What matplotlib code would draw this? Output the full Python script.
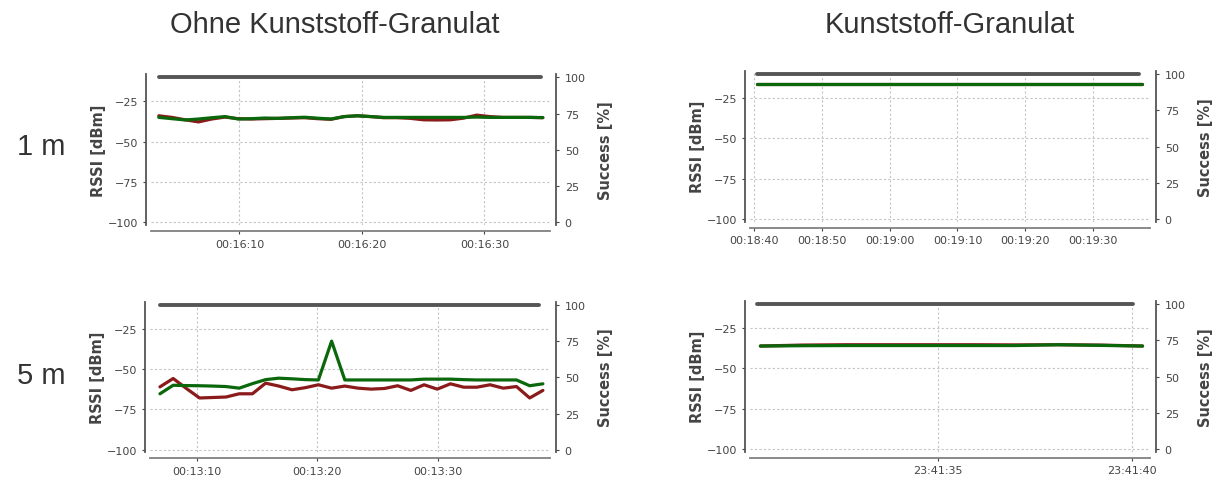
import numpy as np
import matplotlib
matplotlib.use("Agg")
import matplotlib.pyplot as plt
from matplotlib.ticker import FuncFormatter, MultipleLocator

W, H = 1220, 481

# —–––– Data (RSSI in dBm, time in seconds of day) —––––
# 1 m, ohne Granulat
t0_1m_ohne, dt_1m_ohne = 963.42, 1.081
red_1m_ohne = [-34.0, -35.0, -36.5, -37.8, -36.0, -34.8, -35.8, -36.0, -35.8, -35.6,
               -35.4, -35.2, -35.8, -36.2, -34.5, -34.0, -34.5, -35.2, -35.2, -35.6,
               -36.5, -36.6, -36.5, -35.5, -33.6, -34.5, -35.0, -35.0, -35.0, -35.2]
green_1m_ohne = [-35.0, -35.8, -36.6, -36.0, -35.2, -34.5, -36.0, -35.8, -35.4, -35.6,
                 -35.2, -34.9, -35.5, -36.0, -34.5, -34.0, -34.5, -35.0, -35.0, -35.0,
                 -35.0, -35.0, -35.0, -35.0, -34.8, -35.0, -35.0, -35.0, -35.0, -35.1]
succ_t_1m_ohne = [963.42, 994.6]
succ_1m_ohne = [100, 100]

# 1 m, mit Granulat
t0_1m_gran, dt_1m_gran = 1120.5, 1.134
red_1m_gran = [-16.6] * 51
green_1m_gran = [-16.6] * 51
succ_t_1m_gran = [1120.5, 1176.7]
succ_1m_gran = [100, 100]

# 5 m, ohne Granulat
t0_5m_ohne, dt_5m_ohne = 786.96, 1.094
red_5m_ohne = [-61.0, -55.8, -62.0, -67.9, -67.6, -67.3, -65.3, -65.3, -58.7, -60.5,
               -62.8, -61.5, -59.7, -61.8, -60.5, -61.8, -62.4, -62.0, -60.3, -63.2,
               -59.7, -62.4, -59.1, -61.2, -61.2, -59.7, -61.8, -60.8, -67.9, -63.2]
green_5m_ohne = [-65.3, -60.0, -60.2, -60.3, -60.5, -60.8, -61.8, -59.0, -56.5, -55.6,
                 -56.0, -56.5, -56.7, -32.6, -56.7, -56.7, -56.7, -56.7, -56.7, -56.7,
                 -56.2, -56.2, -56.2, -56.5, -56.7, -56.7, -56.7, -56.7, -60.3, -59.1]
succ_t_5m_ohne = [787.0, 818.4]
succ_5m_ohne = [100, 100]

# 5 m, mit Granulat
t0_5m_gran, dt_5m_gran = 85290.43, 1.094
red_5m_gran = [-36.2, -35.6, -35.4, -35.4, -35.4, -35.4, -35.5, -35.4, -35.6, -36.2]
green_5m_gran = [-36.2, -36.0, -35.9, -35.9, -35.9, -35.9, -35.9, -35.4, -35.8, -36.2]
succ_t_5m_gran = [85290.34, 85300.02]
succ_5m_gran = [100, 100]

RED = '#8b1a1a'
GREEN = '#0b670b'
GREY = '#555555'
TXT = '#444444'


def hms(s, pos=None):
    s = int(round(s))
    return f"{s // 3600:02d}:{(s // 60) % 60:02d}:{s % 60:02d}"


def box(l, t, r, b):
    return [l / W, 1 - b / H, (r - l) / W, (b - t) / H]


def panel(fig, rect, t0, dt, red, green, st, sv, xlim, step):
    ax = fig.add_axes(rect)
    t = t0 + dt * np.arange(len(red))
    ax.plot(t, red, color=RED, lw=2.3, solid_capstyle='round', zorder=3)
    ax.plot(t, green, color=GREEN, lw=2.3, solid_capstyle='round', zorder=4)
    ax.set_xlim(*xlim)
    ax.set_ylim(-101.7, -8.1)
    ax.set_yticks([-100, -75, -50, -25])
    ax.xaxis.set_major_locator(MultipleLocator(step))
    ax.xaxis.set_major_formatter(FuncFormatter(hms))
    ax.grid(True, color='#c4c4c4', lw=0.8, ls=(0, (2, 2)))
    for side in ['top', 'right']:
        ax.spines[side].set_visible(False)
    ax.spines['left'].set_position(('outward', 3.6))
    ax.spines['bottom'].set_position(('outward', 4.3))
    ax.spines['left'].set_color(GREY)
    ax.spines['bottom'].set_color('#808080')
    ax.spines['left'].set_linewidth(1.3)
    ax.spines['bottom'].set_linewidth(1.3)
    ax.tick_params(axis='both', labelsize=8, colors=TXT, length=2.5, width=0.8, pad=3)
    ax.set_ylabel('RSSI [dBm]', fontsize=10.5, fontweight='bold', color=TXT, labelpad=1.5)

    ax2 = ax.twinx()
    ax2.plot(st, sv, color=GREY, lw=2.8, solid_capstyle='round')
    ax2.set_ylim(-1.86, 102.3)
    ax2.set_yticks([0, 25, 50, 75, 100])
    for side in ['top', 'left', 'bottom']:
        ax2.spines[side].set_visible(False)
    ax2.spines['right'].set_position(('outward', 4.3))
    ax2.spines['right'].set_color(GREY)
    ax2.spines['right'].set_linewidth(1.3)
    ax2.tick_params(axis='y', labelsize=8, colors=TXT, length=2.5, width=0.8, pad=4)
    ax2.set_ylabel('Success [%]', fontsize=10.5, fontweight='bold', color=TXT, labelpad=9)
    return ax


fig = plt.figure(figsize=(W / 100, H / 100), dpi=100)

panel(fig, box(150.7, 75.0, 549.7, 226.0), t0_1m_ohne, dt_1m_ohne, red_1m_ohne, green_1m_ohne,
      succ_t_1m_ohne, succ_1m_ohne, (962.76, 995.33), 10)
panel(fig, box(750.3, 71.7, 1149.7, 222.7), t0_1m_gran, dt_1m_gran, red_1m_gran, green_1m_gran,
      succ_t_1m_gran, succ_1m_gran, (1119.5, 1178.3), 10)
panel(fig, box(150.3, 302.7, 549.7, 453.4), t0_5m_ohne, dt_5m_ohne, red_5m_ohne, green_5m_ohne,
      succ_t_5m_ohne, succ_5m_ohne, (786.16, 819.25), 10)
panel(fig, box(750.3, 301.7, 1149.7, 452.7), t0_5m_gran, dt_5m_gran, red_5m_gran, green_5m_gran,
      succ_t_5m_gran, succ_5m_gran, (85290.17, 85300.46), 5)

title_kw = dict(fontsize=21, family='Liberation Sans', color='#333333', ha='center', va='center')
fig.text(335 / W, 1 - 25 / H, 'Ohne Kunststoff-Granulat', **title_kw)
fig.text(950 / W, 1 - 25 / H, 'Kunststoff-Granulat', **title_kw)
fig.text(41 / W, 1 - 147 / H, '1 m', **title_kw)
fig.text(41 / W, 1 - 376 / H, '5 m', **title_kw)

fig.savefig('out.png', dpi=100)
